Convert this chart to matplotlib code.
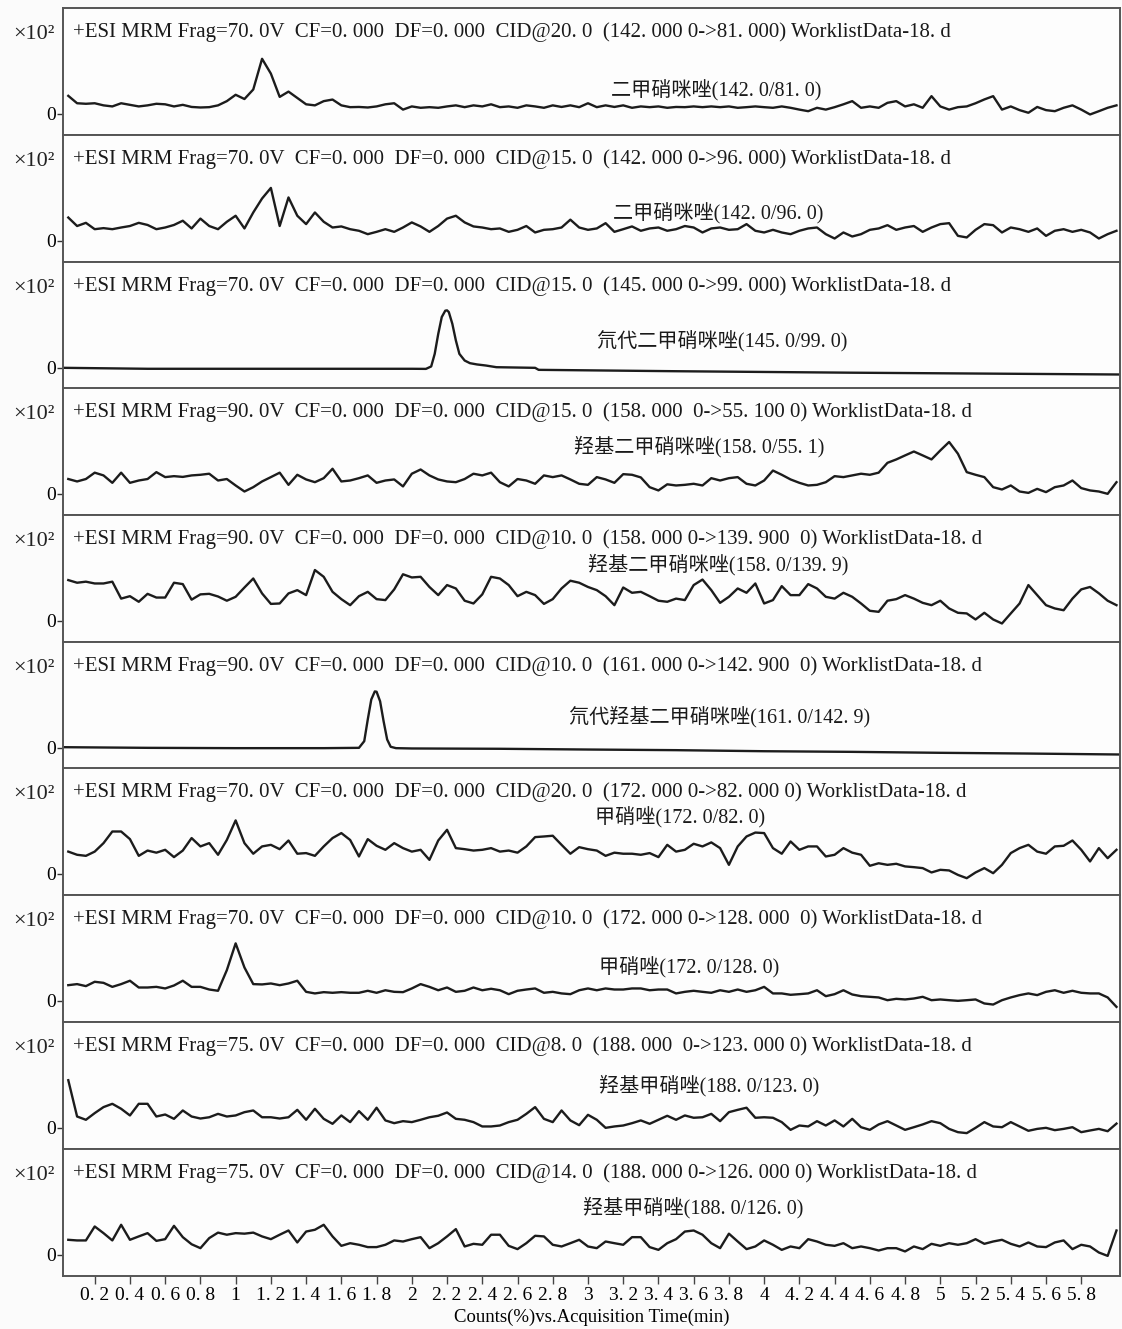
import numpy as np
import matplotlib
matplotlib.use("Agg")
import matplotlib.pyplot as plt

plt.rcParams['font.family'] = ['Liberation Serif', 'Noto Sans CJK SC']

# acquisition time grid (min) for the noisy traces
TIME = np.round(np.arange(1, 121) * 0.05, 2)

# intensities (arbitrary, x10^2 scale)
P1 = [17, 10, 9.5, 10, 8, 7, 10, 8.5, 7, 8, 9.5, 9, 7, 8.5, 6.5, 6, 6.3, 8, 12, 18,
      14, 23, 52, 38, 16, 21, 15, 9, 8, 12, 13.5, 8, 6.3, 6.5, 6, 7, 9, 10, 4, 7,
      5.7, 6.3, 5.7, 7, 8, 6.3, 8, 7, 9, 6.3, 7, 5.7, 8, 7, 5.7, 8, 6.5, 8, 6.3, 10,
      6.3, 8, 6.5, 8, 5.7, 7, 6.3, 7, 5.7, 6.5, 6.3, 7, 6.3, 7, 6.3, 7, 5.7, 6.3, 7, 6.3,
      5.7, 7, 5.7, 4, 2.5, 5.7, 4, 6.3, 9, 12, 5.7, 7, 5.7, 10.4, 12, 7, 9, 5.7, 16.7, 7,
      4, 6.3, 7, 10, 13.6, 16.7, 4, 7, 3.5, 1, 6.5, 3.5, 2.5, 5.7, 8, 4, -0.6, 2.5, 5.7, 8]

P2 = [22, 14, 17, 11, 12, 11, 12.6, 14, 17, 15, 11, 12.6, 15, 19, 11.7, 21, 14, 11, 18, 23.7,
      11.7, 26.8, 40, 50, 14, 41, 23.7, 15.8, 26.8, 18, 12.6, 13.6, 11, 9.5, 6.3, 8.5, 11, 8.5, 12.6, 17.4,
      13.6, 8.5, 14, 21, 23.7, 17.4, 13.6, 12.6, 11, 11.7, 8.5, 10.4, 14, 7.9, 10.4, 11, 12.6, 20, 12.6, 10.4,
      11.7, 16.7, 8.5, 11, 13.6, 9.5, 11.7, 12.6, 9.5, 11, 14, 12.6, 7.9, 11.7, 12.6, 10.4, 11, 15.8, 9.5, 7.9,
      10.4, 7.9, 6.3, 9.5, 11.7, 12.6, 6.3, 2.2, 7.9, 4.1, 6.3, 10.4, 11.7, 14.8, 10.4, 12.6, 14, 8.5, 12.6, 15.8,
      16.7, 4.7, 3.2, 10.4, 15.8, 14.8, 7.9, 12.6, 11, 8.5, 11.7, 4.7, 9.5, 11, 8.5, 10.4, 7.9, 2.2, 6.3, 9.5]

P4 = [14, 11.7, 14, 20, 17.4, 10.4, 20, 10.4, 12.6, 14, 20.5, 15.8, 16.7, 16, 17.4, 18, 19, 12.6, 14, 7.9,
      2.2, 6.3, 11.7, 15.8, 20, 8.5, 18, 13.6, 11, 14.8, 23.7, 11.7, 12.6, 14.8, 17.4, 10.4, 12.6, 13.6, 7, 19,
      23, 17.4, 13.6, 11.7, 11, 14, 19, 17.4, 20, 11, 7, 14, 12.6, 9.5, 17.4, 15.8, 17.4, 13.6, 9.5, 8.5,
      15.8, 13.6, 10.4, 18.6, 18, 15.5, 6.3, 3.2, 9, 7.9, 8.5, 9.5, 7.9, 14.8, 12.6, 14.8, 15.8, 9.5, 7.9, 12.6,
      22, 18, 13.6, 10.4, 7.9, 8.5, 11, 16.7, 15.8, 17.4, 19, 18, 20, 29.3, 32.5, 36.3, 40, 36.3, 32.5, 41,
      49, 37.9, 20.5, 18, 15.8, 6.3, 4.1, 7.9, 2.2, 0.9, 4.7, 1.6, 6.3, 7.9, 12.6, 5.4, 3.2, 2.2, 0, 11]

P5 = [38.5, 36, 37, 35.3, 35.3, 37, 21, 23.3, 18, 25.5, 22, 22, 36, 34.7, 20, 25, 25.5, 23, 19, 22.7,
      31.5, 40, 25.9, 16, 16.4, 25.9, 29, 24.3, 48, 41.6, 27.4, 20.5, 14.8, 23.3, 27.4, 20.5, 19.6, 29.7, 44, 41,
      41.6, 32, 24.3, 33.8, 30.6, 19, 16.4, 25, 41.6, 40, 33.8, 23.3, 27.4, 24.3, 16, 20.5, 30.6, 37.9, 36, 32,
      29, 23.3, 14.8, 31.5, 26.5, 27.4, 23.3, 19, 18, 21, 19.6, 33.8, 39, 29, 17, 22.7, 30.6, 26.5, 35.3, 16.4,
      19.6, 32.8, 24.3, 24.3, 34.7, 30.6, 22.7, 21, 26.5, 22.7, 16.4, 9.5, 8.5, 19, 20.5, 24.3, 21, 17, 14.8, 19,
      11.7, 7.6, 7, 1.3, 7.6, 1.3, -2.5, 7, 16.4, 33.8, 24.3, 14.8, 11.7, 10, 21, 29.7, 32, 26, 19, 14.8]

P7 = [21, 18, 17, 21, 29, 40, 40, 32.8, 17, 22, 20, 22.7, 15.8, 22, 33.8, 25.9, 29, 18, 32, 50.5,
      29, 19, 25.9, 27.4, 23.3, 31.5, 19, 19.6, 17, 25.9, 33.8, 38.5, 32, 16.4, 32.8, 26.5, 22.7, 29, 24.3, 21,
      22.7, 13.2, 31.5, 41.6, 24.3, 23.3, 22, 22.7, 24.3, 21, 22, 20, 25.9, 34.7, 35.3, 36, 27.4, 19, 25.2, 23.3,
      22, 17, 20, 19, 19, 18, 19.6, 15.8, 27.4, 21, 22.7, 28.4, 25.9, 29.7, 24.3, 8.5, 25.9, 35.3, 39, 38.5,
      24.3, 19, 30.6, 22.7, 25.9, 25.9, 16.4, 18, 24.3, 20, 18, 7.6, 10, 8.5, 9.5, 7, 6.3, 5.4, 1.3, 3.8,
      3.2, -1, -4.1, 1.3, 5.4, 0.6, 8.5, 19.6, 24.3, 27.4, 21, 19, 25.9, 26.5, 31.5, 22.7, 11.7, 24.3, 14.8, 22.7]

P8 = [14.8, 15.8, 13.9, 18, 17, 13.2, 15.8, 19, 12.6, 12.6, 13.2, 11.7, 14.5, 19, 13.2, 13.2, 10.7, 9.5, 29, 54.3,
      31.5, 15.8, 15.5, 16.4, 14.8, 16.4, 19, 8.5, 7, 8.2, 7.6, 8.2, 7.6, 7.6, 9.5, 7.6, 10, 8.5, 8.2, 11.7,
      15.8, 13.2, 10, 12.6, 8.5, 9.5, 12.6, 10, 11.4, 10, 6.3, 9.5, 10.7, 11.7, 7.6, 8.5, 7, 6.3, 10, 11.7,
      10, 11.7, 10.7, 10.7, 11.7, 11.7, 10, 10.7, 10.7, 7, 8.5, 9.5, 8.5, 7.6, 10, 8.5, 10.7, 8.5, 10, 13.2,
      7, 7, 5.7, 6.3, 7, 10, 4.4, 6.3, 10, 6, 4.4, 3.8, 3.2, 0.6, 1.9, 1.3, 2.2, 3.8, 0.6, 1.3,
      0.6, 0, 0.6, 1.3, -2.5, -3.5, 0.6, 3.2, 5.4, 7, 5.4, 8.5, 10, 7.6, 9.5, 7.6, 7, 7, 3.2, -5.7]

P9 = [45, 10.7, 7.6, 13.9, 19.6, 22.7, 18, 11.7, 22.7, 22.7, 10.7, 12.6, 8.5, 16.4, 10.7, 8.8, 10, 13.2, 10.7, 11.7,
      14.8, 16.4, 10, 10, 8.8, 10, 17, 7.6, 18, 8.5, 3.8, 11.7, 5.4, 15.8, 7.6, 19, 7, 4.4, 6.3, 5.4,
      7.6, 10, 11.4, 14.5, 8.5, 7.6, 5.4, 1.3, 1.3, 2.2, 5.4, 7.6, 13.2, 19.6, 8.5, 5.4, 16.4, 7, 2.5, 12.3,
      7.6, 0, 1.3, 2.2, 4.4, 7, 3.8, 7.6, 11.4, 7.6, 11.7, 9.5, 10, 13.2, 6.3, 14.8, 17, 19, 9.5, 10,
      9.5, 5.4, -1.9, 2.2, 1.3, 6.3, 2.2, 7, 1.3, 8.5, 0.6, -1.9, 3.2, 6.3, 2.2, -1.9, 0.6, 3.2, 6.3, 4.4,
      -1, -4.1, -5, 0, 5.4, 1.3, 0.6, 5.4, 1.3, -2.8, -1, 0, -2.2, -1, 0.6, -4.1, -2.5, -1, -3.2, 4]

P10 = [14.2, 13.6, 13.6, 26.8, 20.5, 13.6, 28.4, 14.2, 17.4, 20.5, 13.2, 14.8, 27.4, 16.7, 10, 6.3, 15.8, 21, 19, 20.5,
       20, 21, 17.4, 14.8, 19, 23, 11.7, 22, 23.7, 28.4, 17.4, 8.5, 11, 9.5, 7.3, 7.3, 9.5, 13.6, 12.6, 14.8,
       16.7, 6.3, 11, 17.4, 24.3, 7.9, 10.4, 9.5, 19, 19, 8.5, 5.4, 11, 18, 17.4, 9.5, 7.9, 11, 14.2, 7.9,
       6.3, 12.6, 11, 9.5, 16.7, 16.7, 7.3, 4.7, 11, 14.8, 22, 23, 19, 11, 6.3, 20, 12.6, 5.4, 7.9, 13.6,
       9.5, 4.7, 7.9, 6.3, 14.8, 12.6, 9.5, 8.5, 11, 6.3, 7.9, 6.3, 4.1, 6.3, 6.3, 3.2, 7.9, 5.4, 10.4, 8.5,
       11, 9.5, 11, 14.8, 10.4, 12.6, 14.2, 10.4, 7.9, 11.7, 7.9, 7.3, 11.7, 13.6, 5.4, 9.5, 7.9, 2.2, -1, 23]

# traces with a single clean peak (finer sampling around the peak)
T3 = [0.03, 0.5, 1.0, 1.5, 2.0, 2.08, 2.11, 2.13, 2.15, 2.17, 2.19, 2.20, 2.21, 2.23, 2.25, 2.27,
      2.30, 2.33, 2.37, 2.42, 2.48, 2.70, 2.72, 3.5, 4.5, 6.02]
P3 = [0, -0.9, -0.9, -0.9, -0.9, -1, 1.3, 13.2, 32, 48, 54, 54.3, 52.7, 41.6, 25.9, 13.2,
      6.9, 4.4, 3.2, 2.2, 0.6, 0, -1.9, -3.2, -4.6, -6.3]
T6 = [0.03, 0.5, 1.0, 1.5, 1.70, 1.73, 1.75, 1.77, 1.79, 1.80, 1.82, 1.84, 1.86, 1.88, 1.91,
      2.0, 2.5, 3.0, 3.5, 4.0, 4.5, 5.0, 5.5, 6.02]
P6 = [0.6, 0, -0.3, -0.3, 0, 6.3, 26.8, 45.7, 53.3, 53, 44, 25, 7.9, 1, -0.3,
      -0.6, -0.9, -1.6, -2.2, -3.2, -3.8, -4.7, -5.4, -6.3]

FRAG = ["70. 0", "70. 0", "70. 0", "90. 0", "90. 0", "90. 0", "70. 0", "70. 0", "75. 0", "75. 0"]
CID = ["20. 0", "15. 0", "15. 0", "15. 0", "10. 0", "10. 0", "20. 0", "10. 0", "8. 0", "14. 0"]
TRANSITION = ["142. 000 0->81. 000", "142. 000 0->96. 000", "145. 000 0->99. 000",
              "158. 000  0->55. 100 0", "158. 000 0->139. 900  0", "161. 000 0->142. 900  0",
              "172. 000 0->82. 000 0", "172. 000 0->128. 000  0", "188. 000  0->123. 000 0",
              "188. 000 0->126. 000 0"]
COMPOUND = ["二甲硝咪唑(142. 0/81. 0)", "二甲硝咪唑(142. 0/96. 0)", "氘代二甲硝咪唑(145. 0/99. 0)",
            "羟基二甲硝咪唑(158. 0/55. 1)", "羟基二甲硝咪唑(158. 0/139. 9)",
            "氘代羟基二甲硝咪唑(161. 0/142. 9)", "甲硝唑(172. 0/82. 0)", "甲硝唑(172. 0/128. 0)",
            "羟基甲硝唑(188. 0/123. 0)", "羟基甲硝唑(188. 0/126. 0)"]
# label anchor: (time, fraction of panel height from top)
LABEL_POS = [(3.13, 0.65), (3.14, 0.62), (3.05, 0.63), (2.92, 0.46), (3.0, 0.39),
             (2.89, 0.59), (3.04, 0.39), (3.06, 0.57), (3.06, 0.50), (2.97, 0.46)]

XTICKS = np.round(np.arange(1, 30) * 0.2, 1)
XTICKLABELS = [("%g" % v).replace(".", ". ") for v in XTICKS]

traces = [(TIME, P1), (TIME, P2), (T3, P3), (TIME, P4), (TIME, P5),
          (T6, P6), (TIME, P7), (TIME, P8), (TIME, P9), (TIME, P10)]

W, H = 1122, 1329
fig = plt.figure(figsize=(W / 100, H / 100), dpi=100)
fig.patch.set_facecolor('#fbfbfb')

tops = [8, 135, 262, 388, 515, 642, 768, 895, 1022, 1149]
panel_h = 127
left, right = 63, 1120

axes = []
for i, (t, y) in enumerate(traces):
    ax = fig.add_axes([left / W, 1 - (tops[i] + panel_h) / H, (right - left) / W, panel_h / H])
    ax.set_facecolor('#fdfdfd')
    ax.plot(t, y, color='#1c1c1c', lw=1.7, solid_joinstyle='round')
    ax.set_xlim(0.02, 6.02)
    ax.set_ylim(-20, 100)
    ax.set_yticks([0])
    ax.set_yticklabels(['0'], fontsize=14)
    ax.tick_params(axis='y', length=4, width=1, pad=1, color='#333333')
    for s in ax.spines.values():
        s.set_color('#555555')
        s.set_linewidth(1.4)
    ax.text(-0.008, 0.79, '×10²', transform=ax.transAxes, ha='right', va='center',
            fontsize=16, color='#222222')
    header = ("+ESI MRM Frag=%sV  CF=0. 000  DF=0. 000  CID@%s  (%s) WorklistData-18. d"
              % (FRAG[i], CID[i], TRANSITION[i]))
    ax.text(0.009, 0.81, header, transform=ax.transAxes, ha='left', va='center',
            fontsize=15, color='#1a1a1a')
    lx, ly = LABEL_POS[i]
    ax.text(lx, 1 - ly, COMPOUND[i], transform=ax.get_xaxis_transform(), ha='left',
            va='center', fontsize=14.5, color='#1a1a1a')
    ax.set_xticks(XTICKS)
    if i < len(traces) - 1:
        ax.tick_params(axis='x', length=0, labelbottom=False)
    axes.append(ax)

ax = axes[-1]
ax.set_xticklabels(XTICKLABELS, fontsize=14)
ax.tick_params(axis='x', length=6, width=1, direction='out', pad=2, color='#444444')
ax.set_xlabel('Counts(%)vs.Acquisition Time(min)', fontsize=13.5, labelpad=3)

fig.savefig('out.png', dpi=100, facecolor=fig.get_facecolor())
